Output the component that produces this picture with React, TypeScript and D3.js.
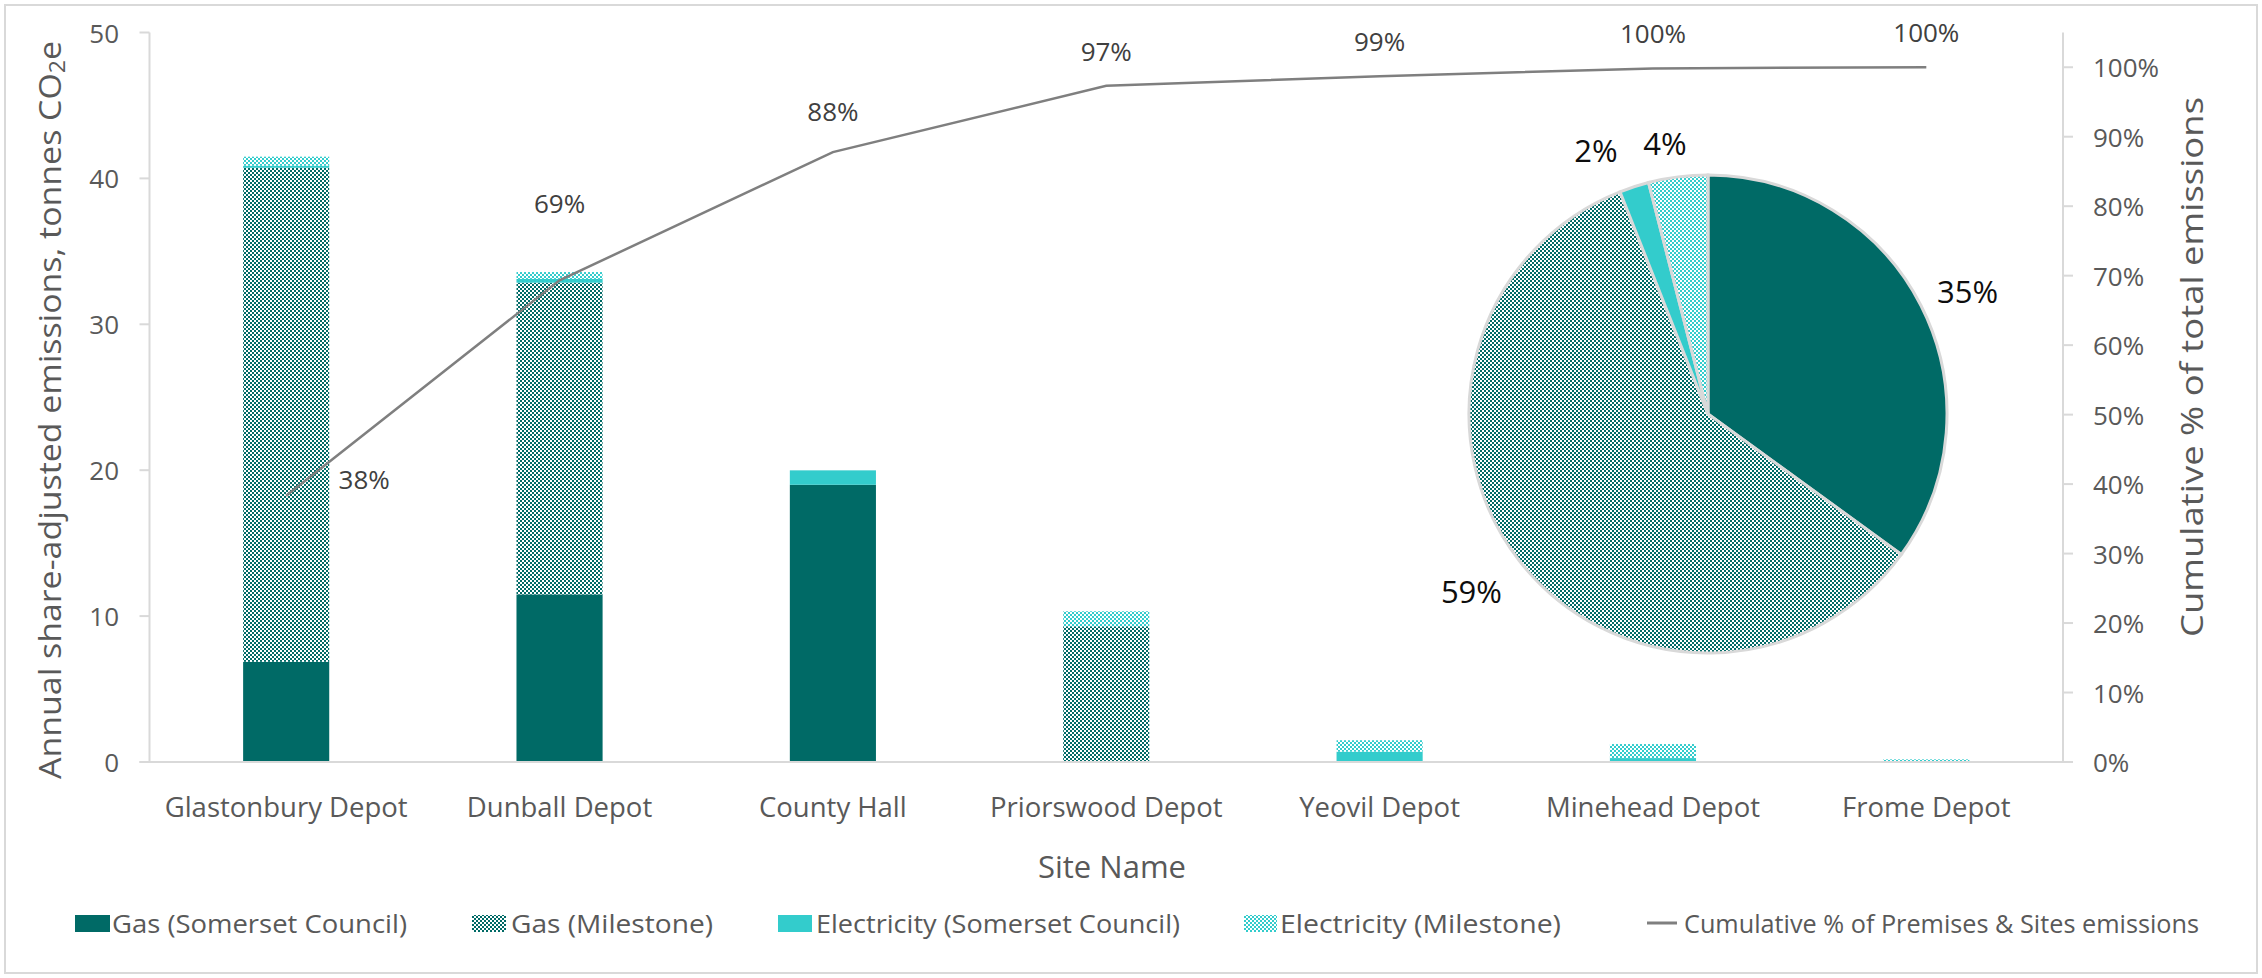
import React from 'react';
import * as d3 from 'd3';

// Sites, in Pareto order
const sites = [
  'Glastonbury Depot',
  'Dunball Depot',
  'County Hall',
  'Priorswood Depot',
  'Yeovil Depot',
  'Minehead Depot',
  'Frome Depot',
];

// Annual share-adjusted emissions, tonnes CO2e
const gasCouncil = [6.87, 11.49, 19.0, 0, 0, 0, 0];
const gasMilestone = [33.86, 21.36, 0, 9.3, 0, 0, 0];
const elecCouncil = [0.14, 0.26, 0.99, 0, 0.71, 0.27, 0];
const elecMilestone = [0.62, 0.47, 0, 1.03, 0.78, 0.96, 0.18];

const seriesKeys = ['gasCouncil', 'gasMilestone', 'elecCouncil', 'elecMilestone'];
const seriesNames = [
  'Gas (Somerset Council)',
  'Gas (Milestone)',
  'Electricity (Somerset Council)',
  'Electricity (Milestone)',
];
const lineName = 'Cumulative % of Premises & Sites emissions';

const leftTicks = [0, 10, 20, 30, 40, 50];
const rightTicks = [0, 0.1, 0.2, 0.3, 0.4, 0.5, 0.6, 0.7, 0.8, 0.9, 1.0];

// Share of all emissions by source, %
const pieShares = [35, 59, 2, 4];

const TEAL = '#006a66';
const CYAN = '#33cccc';
const AXIS = '#d9d9d9';
const TEXT = '#595959';
const LINE = '#7f7f7f';
const FONT = "'Open Sans', 'DejaVu Sans', sans-serif";

const W = 2262;
const H = 978;
const plot = { left: 149.5, right: 2063, top: 32.5, bottom: 762 };

const fills = [TEAL, 'url(#chkTeal)', CYAN, 'url(#chkCyan)'];

export default function App() {
  const rows = sites.map((s, i) => ({
    site: s,
    gasCouncil: gasCouncil[i],
    gasMilestone: gasMilestone[i],
    elecCouncil: elecCouncil[i],
    elecMilestone: elecMilestone[i],
  }));
  const totals = rows.map(
    (r) => r.gasCouncil + r.gasMilestone + r.elecCouncil + r.elecMilestone
  );
  const grand = d3.sum(totals);
  const cumulative: number[] = Array.from(d3.cumsum(totals), (v) => v / grand);

  const x = d3
    .scaleBand<string>()
    .domain(sites)
    .range([plot.left, plot.right])
    .paddingInner(0.685)
    .paddingOuter(0.3425);
  const y = d3.scaleLinear().domain([0, 50]).range([plot.bottom, plot.top]);
  const y2 = d3.scaleLinear().domain([0, 1.05]).range([plot.bottom, plot.top]);

  const stacked = d3.stack<any>().keys(seriesKeys)(rows as any);

  const cx = (s: string) => (x(s) as number) + x.bandwidth() / 2;

  const line = d3
    .line<number>()
    .x((_, i) => cx(sites[i]))
    .y((d) => y2(d));

  // label nudges for the cumulative line (default sits above the point)
  const lineLabelOffset = (i: number) => {
    if (i === 0) return { dx: 78, dy: -17 };
    if (i === 1) return { dx: 0, dy: -77 };
    if (i === 2) return { dx: 0, dy: -41 };
    return { dx: 0, dy: -35 };
  };

  // pie
  const pieC = { x: 1708, y: 414 };
  const pieR = 239;
  const arcs = d3.pie<number>().sort(null)(pieShares);
  const arcGen = d3.arc<d3.PieArcDatum<number>>().innerRadius(0).outerRadius(pieR);
  const labelArc = d3
    .arc<d3.PieArcDatum<number>>()
    .innerRadius(pieR + 49)
    .outerRadius(pieR + 49);
  const pieNudge = [
    [3, 8],
    [-9, 0],
    [-23, 10],
    [-7, 15],
  ];

  // legend layout
  const legendY = 923;
  const legendItems = [
    { sx: 75, sw: 35, tx: 112, tw: 295 },
    { sx: 472, sw: 34, tx: 511, tw: 202 },
    { sx: 778, sw: 34, tx: 816, tw: 364 },
    { sx: 1244, sw: 33, tx: 1280, tw: 281 },
  ];

  return (
    <svg
      width={W}
      height={H}
      style={{ position: 'absolute', left: 0, top: 0, background: '#fff' }}
      fontFamily={FONT}
    >
      <defs>
        <pattern id="chkTeal" width={4} height={4} patternUnits="userSpaceOnUse">
          <rect width={4} height={4} fill="#fff" />
          <rect width={2} height={2} fill={TEAL} />
          <rect x={2} y={2} width={2} height={2} fill={TEAL} />
        </pattern>
        <pattern id="chkCyan" width={4} height={4} patternUnits="userSpaceOnUse">
          <rect width={4} height={4} fill="#fff" />
          <rect width={2} height={2} fill={CYAN} />
          <rect x={2} y={2} width={2} height={2} fill={CYAN} />
        </pattern>
      </defs>

      <rect x={5} y={5} width={W - 10} height={H - 10} fill="#fff" stroke={AXIS} strokeWidth={2} />

      {/* stacked bars */}
      {stacked.map((layer, li) => (
        <g key={layer.key} fill={fills[li]}>
          {layer.map((d, i) =>
            d[1] - d[0] > 0 ? (
              <rect
                key={i}
                x={x(sites[i])}
                width={x.bandwidth()}
                y={y(d[1])}
                height={y(d[0]) - y(d[1])}
              />
            ) : null
          )}
        </g>
      ))}

      {/* axes */}
      <g stroke={AXIS} strokeWidth={2}>
        <line x1={plot.left} x2={plot.left} y1={plot.top} y2={plot.bottom} />
        <line x1={plot.left - 10} x2={plot.right + 10} y1={plot.bottom} y2={plot.bottom} />
        <line x1={plot.right} x2={plot.right} y1={plot.top} y2={plot.bottom} />
        {leftTicks.map((t) => (
          <line key={'l' + t} x1={plot.left - 10} x2={plot.left} y1={y(t)} y2={y(t)} />
        ))}
        {rightTicks.map((t) => (
          <line key={'r' + t} x1={plot.right} x2={plot.right + 10} y1={y2(t)} y2={y2(t)} />
        ))}
      </g>

      <g fill={TEXT} fontSize={26}>
        {leftTicks.map((t) => (
          <text key={'lt' + t} x={119} y={y(t)} textAnchor="end" dominantBaseline="central">
            {t}
          </text>
        ))}
        {rightTicks.map((t) => (
          <text key={'rt' + t} x={2093} y={y2(t)} textAnchor="start" dominantBaseline="central">
            {d3.format('.0%')(t)}
          </text>
        ))}
      </g>
      <g fill={TEXT} fontSize={27.5}>
        {sites.map((s) => (
          <text key={s} x={cx(s)} y={806} textAnchor="middle" dominantBaseline="central">
            {s}
          </text>
        ))}
      </g>

      {/* axis titles */}
      <g fill={TEXT} fontSize={31}>
        <text
          transform="translate(49,410) rotate(-90)"
          textAnchor="middle"
          dominantBaseline="central"
          textLength={738}
          lengthAdjust="spacingAndGlyphs"
        >
          Annual share-adjusted emissions, tonnes CO
          <tspan fontSize={21} dy={8}>2</tspan>
          <tspan dy={-8}>e</tspan>
        </text>
        <text
          transform="translate(2191,367) rotate(-90)"
          textAnchor="middle"
          dominantBaseline="central"
          textLength={540}
          lengthAdjust="spacingAndGlyphs"
        >
          Cumulative % of total emissions
        </text>
        <text x={1112} y={866} textAnchor="middle" dominantBaseline="central">
          Site Name
        </text>
      </g>

      {/* cumulative line */}
      <path d={line(cumulative) || ''} fill="none" stroke={LINE} strokeWidth={2.5} />
      <g fill="#404040" fontSize={26}>
        {cumulative.map((v, i) => {
          const o = lineLabelOffset(i);
          return (
            <text
              key={i}
              x={cx(sites[i]) + o.dx}
              y={y2(v) + o.dy}
              textAnchor="middle"
              dominantBaseline="central"
            >
              {d3.format('.0%')(v)}
            </text>
          );
        })}
      </g>

      {/* pie of totals by source */}
      <g transform={`translate(${pieC.x},${pieC.y})`}>
        {arcs.map((a, i) => (
          <path key={i} d={arcGen(a) || ''} fill={fills[i]} stroke={AXIS} strokeWidth={3} />
        ))}
        <g fill="#0d0d0d" fontSize={31}>
          {arcs.map((a, i) => {
            const [lx, ly] = labelArc.centroid(a);
            return (
              <text
                key={i}
                x={lx + pieNudge[i][0]}
                y={ly + pieNudge[i][1]}
                textAnchor="middle"
                dominantBaseline="central"
              >
                {a.data}%
              </text>
            );
          })}
        </g>
      </g>

      {/* legend */}
      <g fill={TEXT} fontSize={26}>
        {legendItems.map((it, i) => (
          <g key={i}>
            <rect x={it.sx} y={legendY - 8} width={it.sw} height={17} fill={fills[i]} />
            <text
              x={it.tx}
              y={legendY}
              dominantBaseline="central"
              textLength={it.tw}
              lengthAdjust="spacingAndGlyphs"
            >
              {seriesNames[i]}
            </text>
          </g>
        ))}
        <line x1={1647} x2={1677} y1={legendY} y2={legendY} stroke={LINE} strokeWidth={3} />
        <text
          x={1684}
          y={legendY}
          dominantBaseline="central"
          textLength={515}
          lengthAdjust="spacingAndGlyphs"
        >
          {lineName}
        </text>
      </g>
    </svg>
  );
}
